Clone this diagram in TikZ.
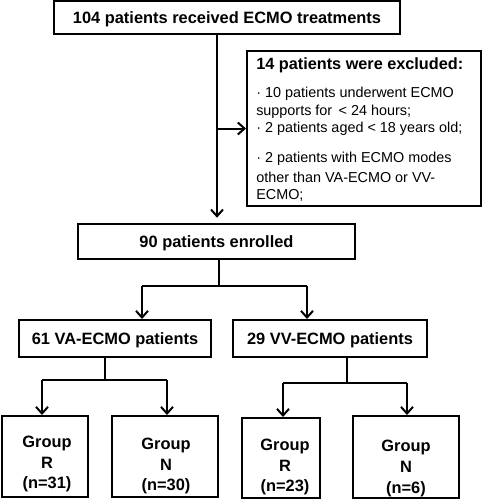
\documentclass[tikz,border=0pt]{standalone}
\usepackage{fontspec}
\setmainfont{Liberation Sans}
\usetikzlibrary{arrows.meta}
\begin{document}
\begin{tikzpicture}[x=0.75pt,y=-0.75pt,
  box/.style={draw, line width=1.5pt, inner sep=0pt, rectangle},
  btxt/.style={font=\fontsize{12.3}{15.7}\selectfont\bfseries, inner sep=0pt, align=center},
  low/.style={text depth=0pt},
  etxt/.style={font=\fontsize{10.8}{13}\selectfont, inner sep=0pt, anchor=west},
  conn/.style={line width=1.5pt},
  arr/.style={line width=1.5pt, -{Straight Barb[length=5pt,width=9pt,line width=1.5pt]}}]
\useasboundingbox (0,0) rectangle (482,500);
% boxes
\node[box, minimum width=259.5pt, minimum height=24.75pt, btxt, low] (top) at (227,17.5) {104 patients received ECMO treatments};
\node[box, minimum width=175.5pt, minimum height=116.25pt] (excl) at (364,128.5) {};
\node[box, minimum width=207.75pt, minimum height=26.25pt, btxt, low] (enr) at (216.5,241.5) {90 patients enrolled};
\node[box, minimum width=144pt, minimum height=27.75pt, btxt, low] (va) at (115,338.5) {61 VA-ECMO patients};
\node[box, minimum width=145.5pt, minimum height=27.75pt, btxt, low] (vv) at (330,338.5) {29 VV-ECMO patients};
\node[box, minimum width=64.5pt, minimum height=60.75pt] (g1) at (45,456.5) {};
\node[box, minimum width=79.5pt, minimum height=60.75pt] (g2) at (165,456.5) {};
\node[box, minimum width=58.5pt, minimum height=60pt] (g3) at (281,458) {};
\node[box, minimum width=79.5pt, minimum height=61.5pt] (g4) at (406,457) {};
% group texts
\node[btxt] (t1) at (47,464) {Group\\R\\(n=31)};
\node[btxt] (t2) at (166,466) {Group\\N\\(n=30)};
\node[btxt] (t3) at (285,467) {Group\\R\\(n=23)};
\node[btxt] (t4) at (406,468.5) {Group\\N\\(n=6)};
% excluded texts
\node[etxt, font=\fontsize{12.2}{13}\selectfont\bfseries] (e0) at (256,65) {14 patients were excluded:};
\node[etxt] (e1) at (256,94) {· 10 patients underwent ECMO};
\node[etxt] (e2) at (256,112) {supports for \,< 24 hours;};
\node[etxt] (e3) at (256,129) {· 2 patients aged < 18 years old;};
\node[etxt] (e4) at (256,159) {· 2 patients with ECMO modes};
\node[etxt] (e5) at (256,177) {other than VA-ECMO or VV-};
\node[etxt] (e6) at (256,195) {ECMO;};
% coordinates
\coordinate (c1) at (217,0);
\coordinate (c2) at (219,286);
\coordinate (s1) at (142,286);
\coordinate (s2) at (307,286);
\coordinate (c3) at (105,380);
\coordinate (s3) at (42,380);
\coordinate (s4) at (167,380);
\coordinate (c4) at (347,383);
\coordinate (s5) at (283,383);
\coordinate (s6) at (407,383);
% connectors
\draw[arr, shorten >=4pt] (top.south -| c1) -- (enr.north -| c1);
\draw[arr] (c1 |- excl.west) -- (excl.west);
\draw[conn] (enr.south -| c2) -- (c2);
\draw[conn] (s1) -- (s2);
\draw[arr] (s1) -- (va.north -| s1);
\draw[arr] (s2) -- (vv.north -| s2);
\draw[conn] (va.south -| c3) -- (c3);
\draw[conn] (s3) -- (s4);
\draw[arr] (s3) -- (g1.north -| s3);
\draw[arr] (s4) -- (g2.north -| s4);
\draw[conn] (vv.south -| c4) -- (c4);
\draw[conn] (s5) -- (s6);
\draw[arr] (s5) -- (g3.north -| s5);
\draw[arr] (s6) -- (g4.north -| s6);
\end{tikzpicture}
\end{document}
